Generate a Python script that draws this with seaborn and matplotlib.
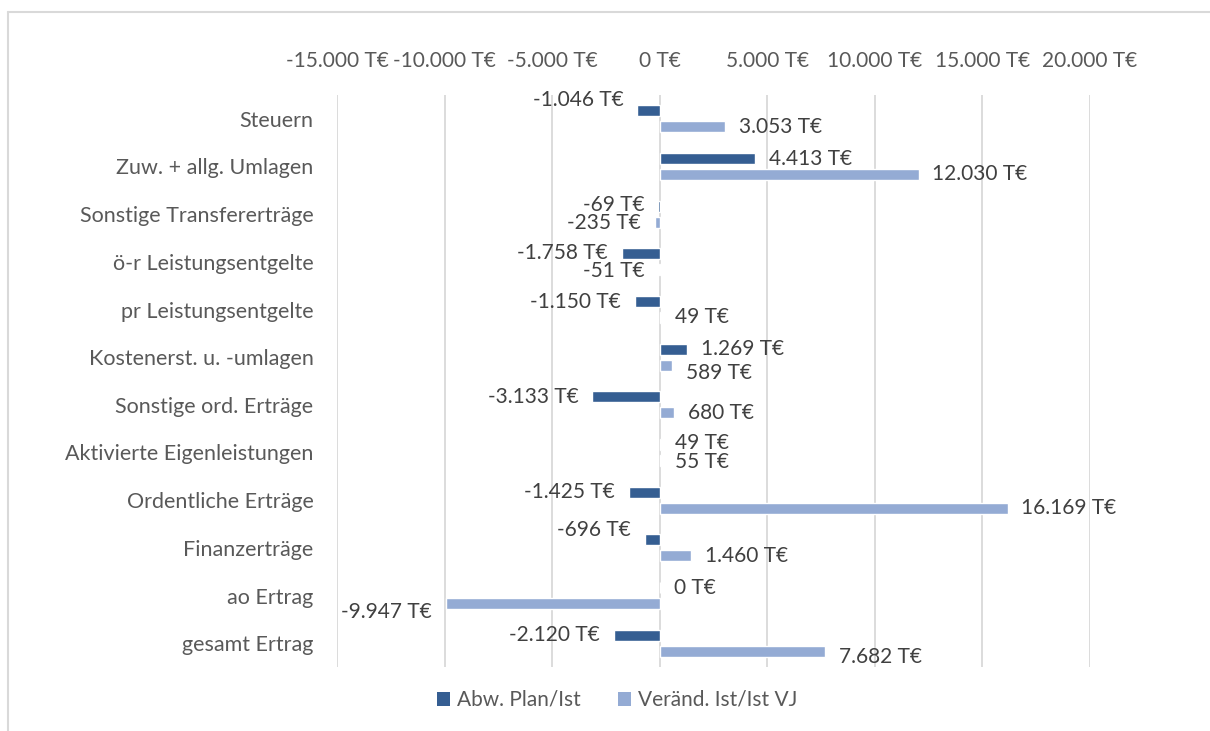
import matplotlib
matplotlib.use("Agg")
import matplotlib.pyplot as plt
import matplotlib.ticker as mticker
from matplotlib.patches import Patch
import seaborn as sns
import pandas as pd

categories = ["Steuern", "Zuw. + allg. Umlagen", "Sonstige Transfererträge",
              "ö-r Leistungsentgelte", "pr Leistungsentgelte", "Kostenerst. u. -umlagen",
              "Sonstige ord. Erträge", "Aktivierte Eigenleistungen", "Ordentliche Erträge",
              "Finanzerträge", "ao Ertrag", "gesamt Ertrag"]
abw_plan_ist = [-1046, 4413, -69, -1758, -1150, 1269, -3133, 49, -1425, -696, 0, -2120]
veraend_ist_vj = [3053, 12030, -235, -51, 49, 589, 680, 55, 16169, 1460, -9947, 7682]
series_names = ["Abw. Plan/Ist", "Veränd. Ist/Ist VJ"]
x_ticks = [-15000, -10000, -5000, 0, 5000, 10000, 15000, 20000]

colors = ["#355E92", "#94ABD4"]
TXT = "#595959"
LBL = "#404040"
FS = 15

sns.set_theme(style="white")
plt.rcParams["font.family"] = ["Lato", "DejaVu Sans"]

df = pd.DataFrame({
    "Kategorie": categories * 2,
    "Wert": abw_plan_ist + veraend_ist_vj,
    "Serie": [series_names[0]] * len(categories) + [series_names[1]] * len(categories),
})

def fmt(v):
    s = f"{abs(int(round(v))):,}".replace(",", ".")
    return ("-" if v < 0 else "") + s + " T€"

fig = plt.figure(figsize=(12.1, 7.31), dpi=100)
ax = fig.add_axes([337 / 1210, 1 - 667 / 731, (1090 - 337) / 1210, (667 - 95) / 731])

sns.barplot(data=df, y="Kategorie", x="Wert", hue="Serie", order=categories,
            hue_order=series_names, palette=colors, orient="h", width=0.66,
            gap=0.3, ax=ax, legend=False, saturation=1)

ax.set_xlim(x_ticks[0], x_ticks[-1])
ax.set_ylim(len(categories) - 0.5, -0.5)
ax.set_xticks(x_ticks)
ax.xaxis.set_major_formatter(mticker.FuncFormatter(lambda v, p: fmt(v)))
ax.xaxis.tick_top()
ax.tick_params(axis="x", length=0, pad=17, labelsize=FS, labelcolor=TXT)
ax.tick_params(axis="y", length=0, pad=17, labelsize=15.5, labelcolor=TXT)
ax.set_xlabel("")
ax.set_ylabel("")
ax.grid(axis="x", color="#D9D9D9", linewidth=1.3)
ax.set_axisbelow(True)
for s in ax.spines.values():
    s.set_visible(False)

# vertical nudges of some data labels (points, positive = down)
nudges = {(0, 0): -8, (1, 5): 6, (0, 9): -7, (1, 10): 6, (1, 11): 4,
          (0, 2): -1, (1, 2): 1, (0, 7): -1.5, (1, 7): 1.5, (0, 3): -0.5, (1, 3): 1}

for si, (cont, vals) in enumerate(zip(ax.containers, [abw_plan_ist, veraend_ist_vj])):
    for ci, (bar, v) in enumerate(zip(cont.patches, vals)):
        yc = bar.get_y() + bar.get_height() / 2
        dy = -nudges.get((si, ci), 0)
        neg = v < 0
        ax.annotate(fmt(v), xy=(v, yc), xytext=(-10 if neg else 10, dy),
                    textcoords="offset points", ha="right" if neg else "left",
                    va="center", fontsize=FS, color=LBL, annotation_clip=False)

handles = [Patch(facecolor=c, edgecolor="none") for c in colors]
fig.legend(handles, series_names, loc="center", bbox_to_anchor=(617 / 1210, 1 - 700 / 731),
           ncol=2, frameon=False, fontsize=FS, labelcolor=TXT, handlelength=0.65,
           handleheight=0.65, handletextpad=0.3, columnspacing=1.8)

# chart area border (left and top visible)
fig.add_artist(plt.Line2D([7.5 / 1210, 7.5 / 1210], [0, 1 - 12 / 731], color="#D9D9D9",
                          linewidth=1.5, transform=fig.transFigure))
fig.add_artist(plt.Line2D([7.5 / 1210, 1], [1 - 12 / 731, 1 - 12 / 731], color="#D9D9D9",
                          linewidth=1.5, transform=fig.transFigure))

fig.savefig("out.png", dpi=100)
